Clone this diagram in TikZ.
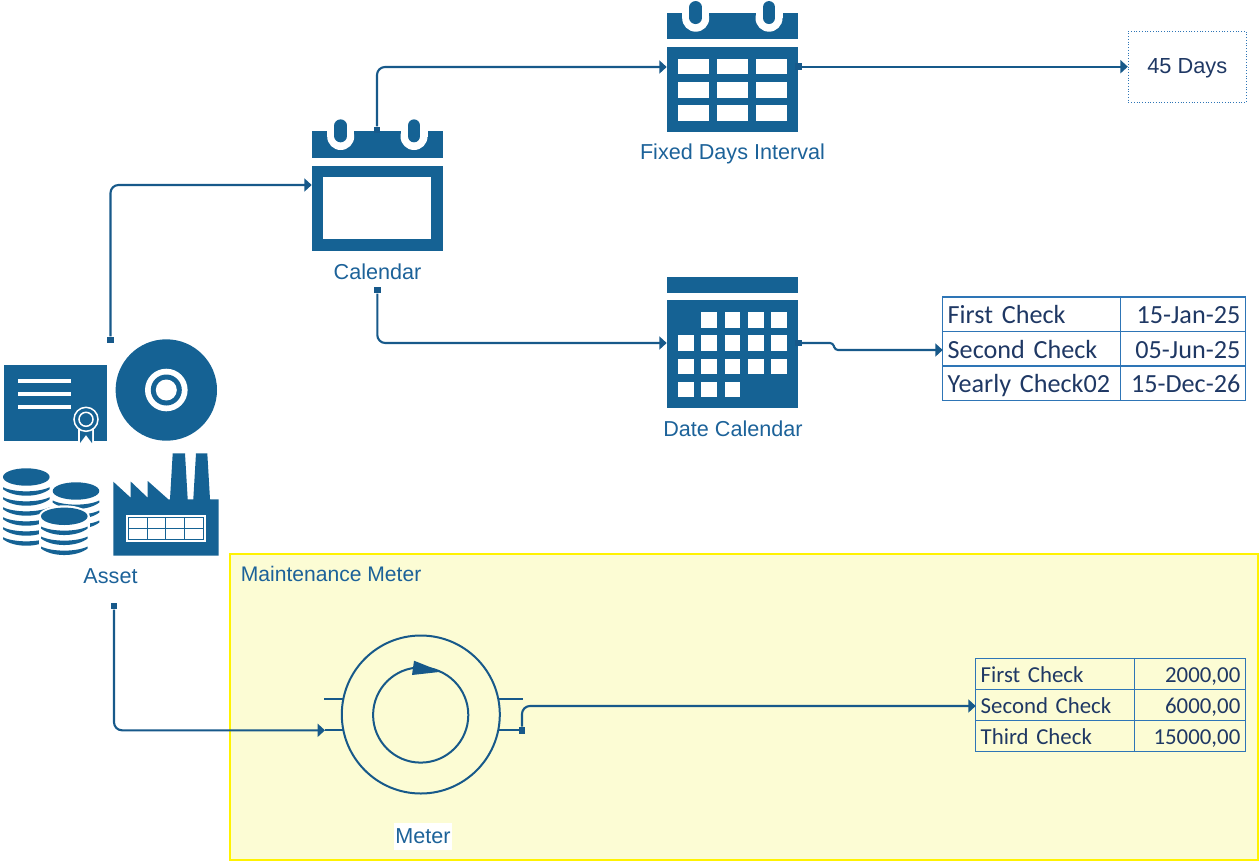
\documentclass[tikz,border=0pt]{standalone}
\usepackage{fontspec}
\setmainfont{Liberation Sans}
\newfontfamily\tablefont{Carlito}
\usetikzlibrary{arrows.meta,positioning,calc}
\def\px{0.02cm}
\definecolor{iconblue}{HTML}{156294}
\definecolor{lineblue}{HTML}{17598A}
\definecolor{labelblue}{HTML}{1C6299}
\definecolor{tableblue}{HTML}{2E75B6}
\definecolor{tabletext}{HTML}{1F3864}
\definecolor{meterfill}{HTML}{FCFCD4}
\newcommand{\coinslab}[2]{\fill[iconblue] ({#1-23.3},{#2-6.5}) .. controls ({#1-12},{#2+2.2}) and ({#1+12},{#2+2.2}) .. ({#1+23.3},{#2-6.5}) -- ({#1+23.3},{#2-8.5}) .. controls ({#1+12},{#2-3}) and ({#1-12},{#2-3}) .. ({#1-23.3},{#2-8.5}) -- cycle;}
\tikzset{
	iconbody/.style={fill=iconblue,inner sep=0pt},
	caption/.style={text=labelblue,inner sep=0pt,text depth=0pt,font=\fontsize{12.3}{14}\selectfont},
	srcdot/.style={fill=lineblue,inner sep=0pt,minimum size=6.5*\px},
	link/.style={lineblue,line width=2.1*\px,rounded corners=8*\px},
	linkarrow/.style={link,-{Triangle[length=4.2pt,width=7.4pt]}},
	symbolline/.style={lineblue,line width=2*\px},
	bigcell/.style={draw=tableblue,line width=1.5*\px,minimum height=34.5*\px,inner xsep=5*\px,inner ysep=0pt,text height=10.8pt,text depth=0pt,text=tabletext,font=\tablefont\fontsize{14.9}{16}\selectfont},
	smallcell/.style={draw=tableblue,line width=1.2*\px,minimum height=31*\px,inner xsep=5*\px,inner ysep=0pt,text height=10.4pt,text depth=0pt,text=tabletext,font=\tablefont\fontsize{13}{15}\selectfont},
	calhead/.pic={
		\fill[iconblue] (0,0) rectangle (131.6,26.6);
		\foreach \ringx in {29,102.3}{
			\fill[white] (\ringx-13.5,-1) rectangle (\ringx+13.5,5.5);
			\fill[white] (\ringx,5.5) circle[radius=13.5];
			\draw[iconblue,line width=12.7*\px,line cap=round] (\ringx,-5.3) -- (\ringx,5);
		}
	}
}
\begin{document}
\begin{tikzpicture}[x=\px,y=-\px]
	\useasboundingbox (0,0) rectangle (1260,862);
	% maintenance meter area
	\node[draw=yellow,fill=meterfill,line width=2*\px,minimum width=1028*\px,minimum height=306*\px,inner sep=0pt] (meterArea) at (744,707) {};
	\node[caption,anchor=west,font=\fontsize{12}{14}\selectfont] (meterTitle) at (240.5,574.3) {Maintenance Meter};
	% calendar
	\pic at (311.7,131) {calhead};
	\node[iconbody,minimum width=131.6*\px,minimum height=84.7*\px] (calBody) at (377.5,208.3) {};
	\fill[white] (323,177.3) rectangle (431.3,239);
	\node[caption] (calLabel) at (377.5,271.2) {Calendar};
	% fixed days calendar
	\pic at (666.7,12.7) {calhead};
	\node[iconbody,minimum width=131.6*\px,minimum height=85*\px] (fixedBody) at (732.5,89.8) {};
	\foreach \cellx in {678.3,717,755.7}
		\foreach \celly in {59,82.2,105.3}
			\fill[white] (\cellx,\celly) rectangle ++(31,15.4);
	\node[caption] (fixedLabel) at (732.5,151.7) {Fixed Days Interval};
	% date calendar
	\fill[iconblue] (666.7,277.3) rectangle (798.3,292.7);
	\node[iconbody,minimum width=131.6*\px,minimum height=108*\px] (dateBody) at (732.5,354.3) {};
	\foreach \cellx/\celly in {701.3/312,724.7/312,748/312,771.3/312,
		678.3/335.3,701.3/335.3,724.7/335.3,748/335.3,771.3/335.3,
		678.3/358.7,701.3/358.7,724.7/358.7,748/358.7,771.3/358.7,
		678.3/381.7,701.3/381.7,724.7/381.7}
		\fill[white] (\cellx,\celly) rectangle ++(15.5,15.5);
	\node[caption] (dateLabel) at (733,428.2) {Date Calendar};
	% asset: certificate
	\fill[iconblue] (4.3,365) rectangle (107.3,441);
	\foreach \liney in {381,394.3,407.3}
		\fill[white] (17.7,\liney-2) rectangle (71.3,\liney+2);
	\fill[white] (78,425) rectangle (94,444.5);
	\fill[iconblue] (80,425) -- (92,425) -- (92,443) -- (86,435) -- (80,443) -- cycle;
	\fill[iconblue] (86,419.3) circle[radius=12.3];
	\draw[white,line width=1.5*\px] (86,419.3) circle[radius=12];
	\draw[white,line width=1.5*\px] (86,419.3) circle[radius=7];
	% asset: disc
	\fill[iconblue] (166.3,390) circle[radius=50.7];
	\fill[white] (166.3,390) circle[radius=21.3];
	\fill[iconblue] (166.3,390) circle[radius=15.5];
	\fill[white] (166.3,390) circle[radius=10.5];
	% asset: coins
	\foreach \slaby in {495.7,505.7,515.7,525.7,535.7,545.7}
		\coinslab{26.3}{\slaby};
	\fill[iconblue] (26.3,477) ellipse[x radius=23.3,y radius=8.7];
	\foreach \slaby in {509,519,529}
		\coinslab{76}{\slaby};
	\fill[iconblue] (76,491) ellipse[x radius=23.3,y radius=8.7];
	\fill[white] (64.3,516.3) ellipse[x radius=25.5,y radius=11];
	\fill[white] (38.8,516) rectangle (89.8,558);
	\foreach \slaby in {535,545,555}
		\coinslab{64.3}{\slaby};
	\fill[iconblue] (64.3,516.3) ellipse[x radius=23.3,y radius=8.7];
	% asset: factory
	\fill[iconblue] (113.3,555.7) -- (113.3,481.7) -- (130.7,497.7) -- (130.7,481.5) -- (147.7,497.7) -- (147.7,481) -- (168.3,499.3) -- (170,499.3) -- (172.7,453.3) -- (185,453.3) -- (187.7,499.3) -- (193.3,499.3) -- (196,453.3) -- (207.3,453.3) -- (210,499.3) -- (218.7,499.3) -- (218.7,555.7) -- cycle;
	\fill[white] (126,515) rectangle (205.7,542);
	\draw[iconblue,line width=1*\px] (128.3,517.3) rectangle (203.7,539.7);
	\draw[iconblue,line width=1*\px] (128.3,528.7) -- (203.7,528.7);
	\foreach \gridx in {147,165.7,184.3}
		\draw[iconblue,line width=1*\px] (\gridx,517.3) -- (\gridx,539.7);
	\node[caption] (assetLabel) at (110.5,576.3) {Asset};
	% meter symbol
	\draw[symbolline] (420.8,714.5) circle[radius=79];
	\draw[symbolline] (420.7,715) circle[radius=47.6];
	\fill[lineblue] (414,660.7) -- (441.7,671.7) -- (412,675) -- cycle;
	\draw[symbolline] (324,699) -- (343,699);
	\draw[symbolline] (498,699) -- (522.7,699);
	\draw[symbolline] (498,730.3) -- (522,730.3);
	\node[caption,fill=white,minimum width=58*\px,minimum height=27*\px] (meterLabel) at (423,836.5) {Meter};
	% value boxes
	\node[draw=tableblue,densely dotted,line width=1*\px,minimum width=118*\px,minimum height=70.7*\px,inner sep=0pt,text height=8.2pt,text depth=0pt,text=tabletext,font=\fontsize{12.4}{14}\selectfont] (daysBox) at (1187.3,66.7) {45 Days};
	\foreach \i/\rowy/\checkname/\checkdate in {1/314.2/First Check/15-Jan-25,2/348.7/Second Check/05-Jun-25,3/383.2/Yearly Check02/15-Dec-26}{
		\node[bigcell,text width=167.6*\px,align=left] (dateName\i) at (1031.5,\rowy) {\checkname};
		\node[bigcell,text width=115*\px,align=right] (dateVal\i) at (1182.8,\rowy) {\checkdate};
	}
	\foreach \i/\rowy/\checkname/\checkval in {1/673.8/First Check/2000{,}00,2/704.8/Second Check/6000{,}00,3/735.8/Third Check/15000{,}00}{
		\node[smallcell,text width=148.6*\px,align=left] (meterName\i) at (1055,\rowy) {\checkname};
		\node[smallcell,text width=101*\px,align=right] (meterVal\i) at (1189.8,\rowy) {\checkval};
	}
	% source dots and free ends
	\node[srcdot] (calTop) at (377,130) {};
	\node[srcdot] (calBottom) at (377.3,290) {};
	\node[srcdot] (fixedOut) at (798.5,66.7) {};
	\node[srcdot] (dateOut) at (798.5,343) {};
	\node[srcdot] (assetTop) at (110.5,340) {};
	\node[srcdot] (assetBottom) at (114,606) {};
	\node[srcdot] (meterOut) at (522,730.3) {};
	\coordinate (calIn) at (311.7,185);
	\coordinate (fixedIn) at (666.7,67);
	\coordinate (dateIn) at (666.7,343);
	\coordinate (meterTip) at (325,730.3);
	\coordinate (meterIn) at (343,730.3);
	\coordinate (dateTableIn) at (942.7,350);
	\coordinate (meterTableIn) at (975.7,706);
	% connectors
	\draw[linkarrow] (assetTop) |- (calIn);
	\draw[linkarrow] (calTop) |- (fixedIn);
	\draw[linkarrow] (calBottom) |- (dateIn);
	\draw[linkarrow] (fixedOut) -- (daysBox.west);
	\draw[linkarrow,rounded corners=3*\px] (dateOut) -- (833,343) -- (835,350) -- (dateTableIn);
	\draw[linkarrow] (assetBottom) |- (meterTip);
	\draw[link] (meterTip) -- (meterIn);
	\draw[linkarrow] (meterOut) |- (meterTableIn);
\end{tikzpicture}
\end{document}
